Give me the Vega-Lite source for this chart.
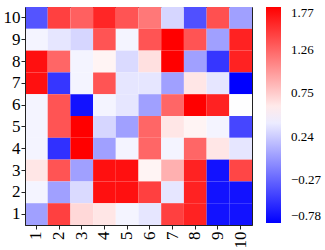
{
  "$schema": "https://vega.github.io/schema/vega-lite/v6.json",
  "width": 227,
  "height": 218,
  "autosize": "none",
  "padding": {"left": 25, "top": 7, "right": 73, "bottom": 25},
  "background": "white",
  "config": {
    "view": {"stroke": "#222222", "strokeWidth": 1},
    "font": "Liberation Serif"
  },
  "datasets": {
    "grid": [
      {"x": 1, "y": 10, "v": -0.36}, {"x": 2, "y": 10, "v": 1.45}, {"x": 3, "y": 10, "v": 1.29}, {"x": 4, "y": 10, "v": 1.58}, {"x": 5, "y": 10, "v": 1.35}, {"x": 6, "y": 10, "v": 1.17}, {"x": 7, "y": 10, "v": 0.29}, {"x": 8, "y": 10, "v": -0.38}, {"x": 9, "y": 10, "v": 1.37}, {"x": 10, "y": 10, "v": 0.02},
      {"x": 1, "y": 9, "v": 0.44}, {"x": 2, "y": 9, "v": 0.37}, {"x": 3, "y": 9, "v": 0.29}, {"x": 4, "y": 9, "v": 1.35}, {"x": 5, "y": 9, "v": 0.44}, {"x": 6, "y": 9, "v": 1.35}, {"x": 7, "y": 9, "v": 1.77}, {"x": 8, "y": 9, "v": 1.35}, {"x": 9, "y": 9, "v": 0.02}, {"x": 10, "y": 9, "v": 1.6},
      {"x": 1, "y": 8, "v": 1.69}, {"x": 2, "y": 8, "v": 1.26}, {"x": 3, "y": 8, "v": 0.44}, {"x": 4, "y": 8, "v": 0.55}, {"x": 5, "y": 8, "v": 0.31}, {"x": 6, "y": 8, "v": 0.65}, {"x": 7, "y": 8, "v": 1.77}, {"x": 8, "y": 8, "v": 0.02}, {"x": 9, "y": 8, "v": -0.51}, {"x": 10, "y": 8, "v": 1.6},
      {"x": 1, "y": 7, "v": 1.69}, {"x": 2, "y": 7, "v": -0.51}, {"x": 3, "y": 7, "v": 0.44}, {"x": 4, "y": 7, "v": 1.35}, {"x": 5, "y": 7, "v": 0.37}, {"x": 6, "y": 7, "v": 0.37}, {"x": 7, "y": 7, "v": 0.02}, {"x": 8, "y": 7, "v": 0.62}, {"x": 9, "y": 7, "v": 0.37}, {"x": 10, "y": 7, "v": -0.78},
      {"x": 1, "y": 6, "v": 0.44}, {"x": 2, "y": 6, "v": 1.35}, {"x": 3, "y": 6, "v": -0.69}, {"x": 4, "y": 6, "v": 0.44}, {"x": 5, "y": 6, "v": 0.37}, {"x": 6, "y": 6, "v": 0.02}, {"x": 7, "y": 6, "v": 1.26}, {"x": 8, "y": 6, "v": 1.77}, {"x": 9, "y": 6, "v": 1.6}, {"x": 10, "y": 6, "v": 0.49},
      {"x": 1, "y": 5, "v": 0.44}, {"x": 2, "y": 5, "v": 1.35}, {"x": 3, "y": 5, "v": 1.77}, {"x": 4, "y": 5, "v": 0.29}, {"x": 5, "y": 5, "v": 0.02}, {"x": 6, "y": 5, "v": 1.26}, {"x": 7, "y": 5, "v": 0.62}, {"x": 8, "y": 5, "v": 0.55}, {"x": 9, "y": 5, "v": 0.44}, {"x": 10, "y": 5, "v": -0.43},
      {"x": 1, "y": 4, "v": 0.44}, {"x": 2, "y": 4, "v": -0.54}, {"x": 3, "y": 4, "v": 1.77}, {"x": 4, "y": 4, "v": 0.02}, {"x": 5, "y": 4, "v": 0.44}, {"x": 6, "y": 4, "v": 1.26}, {"x": 7, "y": 4, "v": 0.44}, {"x": 8, "y": 4, "v": 1.26}, {"x": 9, "y": 4, "v": 0.62}, {"x": 10, "y": 4, "v": 0.37},
      {"x": 1, "y": 3, "v": 0.62}, {"x": 2, "y": 3, "v": 1.35}, {"x": 3, "y": 3, "v": 0.02}, {"x": 4, "y": 3, "v": 1.69}, {"x": 5, "y": 3, "v": 1.69}, {"x": 6, "y": 3, "v": 0.55}, {"x": 7, "y": 3, "v": 0.89}, {"x": 8, "y": 3, "v": 1.6}, {"x": 9, "y": 3, "v": -0.69}, {"x": 10, "y": 3, "v": 1.42},
      {"x": 1, "y": 2, "v": 0.44}, {"x": 2, "y": 2, "v": 0.02}, {"x": 3, "y": 2, "v": 0.31}, {"x": 4, "y": 2, "v": 1.69}, {"x": 5, "y": 2, "v": 1.69}, {"x": 6, "y": 2, "v": 1.45}, {"x": 7, "y": 2, "v": 0.37}, {"x": 8, "y": 2, "v": 1.6}, {"x": 9, "y": 2, "v": -0.69}, {"x": 10, "y": 2, "v": -0.69},
      {"x": 1, "y": 1, "v": 0.02}, {"x": 2, "y": 1, "v": 1.45}, {"x": 3, "y": 1, "v": 0.69}, {"x": 4, "y": 1, "v": 0.62}, {"x": 5, "y": 1, "v": 0.44}, {"x": 6, "y": 1, "v": 0.37}, {"x": 7, "y": 1, "v": 1.45}, {"x": 8, "y": 1, "v": 1.6}, {"x": 9, "y": 1, "v": -0.69}, {"x": 10, "y": 1, "v": -0.69}
    ]
  },
  "data": {"name": "grid"},
  "mark": {"type": "rect"},
  "encoding": {
    "x": {
      "field": "x", "type": "ordinal",
      "scale": {"paddingInner": 0, "paddingOuter": 0},
      "axis": {
        "title": null, "labelAngle": 270, "labelFont": "Liberation Serif", "labelFontSize": 17,
        "labelColor": "#000000", "tickColor": "#222222", "tickSize": 4, "domainColor": "#222222",
        "labelPadding": 2
      }
    },
    "y": {
      "field": "y", "type": "ordinal", "sort": "descending",
      "scale": {"paddingInner": 0, "paddingOuter": 0},
      "axis": {
        "title": null, "labelFont": "Liberation Serif", "labelFontSize": 17,
        "labelColor": "#000000", "tickColor": "#222222", "tickSize": 4, "domainColor": "#222222",
        "labelPadding": 1
      }
    },
    "color": {
      "field": "v", "type": "quantitative",
      "scale": {"domain": [-0.78, 0.495, 1.77], "range": ["#0000ff", "#ffffff", "#ff0000"], "interpolate": "rgb"},
      "legend": {
        "title": null, "orient": "right", "offset": 14, "padding": 0,
        "gradientLength": 216, "gradientThickness": 15, "gradientStrokeWidth": 0,
        "values": [-0.78, -0.27, 0.24, 0.75, 1.26, 1.77], "format": ".2f",
        "labelFont": "Liberation Serif", "labelFontSize": 13, "labelColor": "#000000",
        "labelOffset": 10, "labelBaseline": "middle", "labelOverlap": false
      }
    }
  }
}
